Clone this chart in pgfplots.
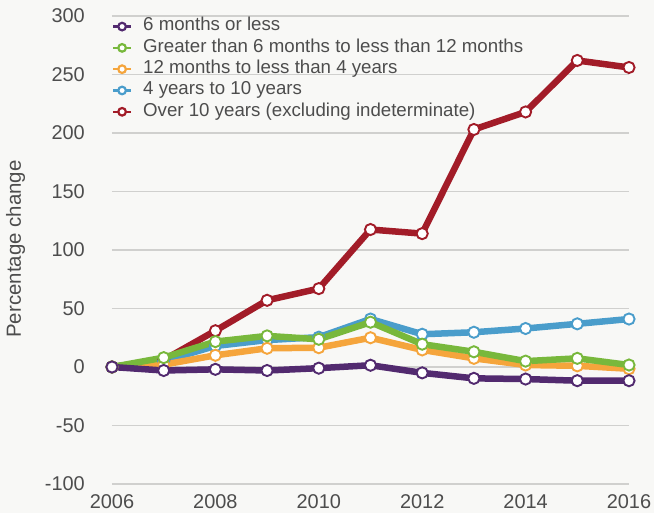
\documentclass[border=0pt]{standalone}
\usepackage{pgfplots}
\pgfplotsset{compat=1.18}
\usepackage{fontspec}
\setmainfont{Liberation Sans}
\usetikzlibrary{backgrounds}
\definecolor{cpurple}{HTML}{522A6F}
\definecolor{cgreen}{HTML}{78B83C}
\definecolor{corange}{HTML}{F5A53C}
\definecolor{cblue}{HTML}{4A9DCB}
\definecolor{cred}{HTML}{A21C28}
\definecolor{bg}{HTML}{F8F8F6}
\definecolor{txt}{HTML}{4D4D4D}
\definecolor{gridc}{HTML}{D0D0CE}
\pgfplotsset{
  ser/.style={color=#1, line width=6.5bp, mark=*, mark size=5.6bp,
    mark options={fill=white, draw=#1, line width=1.9bp},
    legend image code/.code={
      \draw[#1, line width=2.2bp] (0,0)--(18bp,0);
      \draw[#1, line width=2.2bp, fill=white] (9bp,0) circle (3.8bp);}}
}
\begin{document}
\begin{tikzpicture}
\begin{axis}[
  scale only axis, width=517bp, height=468bp,
  xmin=2006, xmax=2016, ymin=-100, ymax=300,
  xtick={2006,2008,...,2016}, ytick={-100,-50,...,300},
  x tick label style={/pgf/number format/1000 sep={}},
  /pgf/number format/assume math mode=true,
  tick label style={font=\fontsize{20}{22}\selectfont, text=txt},
  xticklabel style={inner sep=0pt, anchor=north, yshift=-10bp},
  yticklabel style={inner sep=0pt, anchor=east, xshift=-27bp},
  major tick length=0pt,
  axis line style={draw=none},
  ymajorgrids, grid style={gridc, line width=1.1bp},
  ylabel={Percentage change},
  every axis y label/.style={at={([xshift=-96.5bp]rel axis cs:0,0.502)}, rotate=90, anchor=center,
    font=\fontsize{20.5}{22}\selectfont, text=txt},
  clip=false,
  legend style={draw=none, fill=none, at={(0,0.998)}, anchor=north west,
    inner sep=0pt, outer sep=0pt,
    nodes={inner sep=0pt, text height=14bp, text depth=5.3bp},
    font=\fontsize{18.75}{20}\selectfont, text=txt, row sep=2bp,
    /tikz/every odd column/.append style={column sep=11bp}},
  legend cell align=left,
  reverse legend,
]
\coordinate (bl) at (rel axis cs:0,0);
\coordinate (tr) at (rel axis cs:1,1);
\addplot[ser=cred] coordinates {(2006,0)(2007,6)(2008,31)(2009,57)(2010,67)(2011,117.5)(2012,114)(2013,203)(2014,218)(2015,262)(2016,256)};
\addlegendentry{Over 10 years (excluding indeterminate)}
\addplot[ser=cblue] coordinates {(2006,0)(2007,5)(2008,18)(2009,23)(2010,25.5)(2011,41)(2012,28)(2013,29.7)(2014,32.9)(2015,36.9)(2016,41)};
\addlegendentry{4 years to 10 years}
\addplot[ser=corange] coordinates {(2006,0)(2007,2)(2008,10)(2009,16)(2010,16.5)(2011,25)(2012,14.6)(2013,7.4)(2014,1.7)(2015,1)(2016,-1.5)};
\addlegendentry{12 months to less than 4 years}
\addplot[ser=cgreen] coordinates {(2006,0)(2007,8)(2008,21.7)(2009,26.6)(2010,23.7)(2011,38.3)(2012,19.5)(2013,13)(2014,5)(2015,7.4)(2016,1.7)};
\addlegendentry{Greater than 6 months to less than 12 months}
\addplot[ser=cpurple] coordinates {(2006,0)(2007,-3)(2008,-2)(2009,-3)(2010,-1)(2011,1.5)(2012,-5)(2013,-9.7)(2014,-10.3)(2015,-11.7)(2016,-11.7)};
\addlegendentry{6 months or less}
\end{axis}
\pgfresetboundingbox
\path[use as bounding box] ([xshift=-112bp,yshift=-29bp]bl) rectangle ([xshift=25bp,yshift=16bp]tr);
\begin{scope}[on background layer]
\fill[bg] ([xshift=-112bp,yshift=-29bp]bl) rectangle ([xshift=25bp,yshift=16bp]tr);
\end{scope}
\end{tikzpicture}
\end{document}
